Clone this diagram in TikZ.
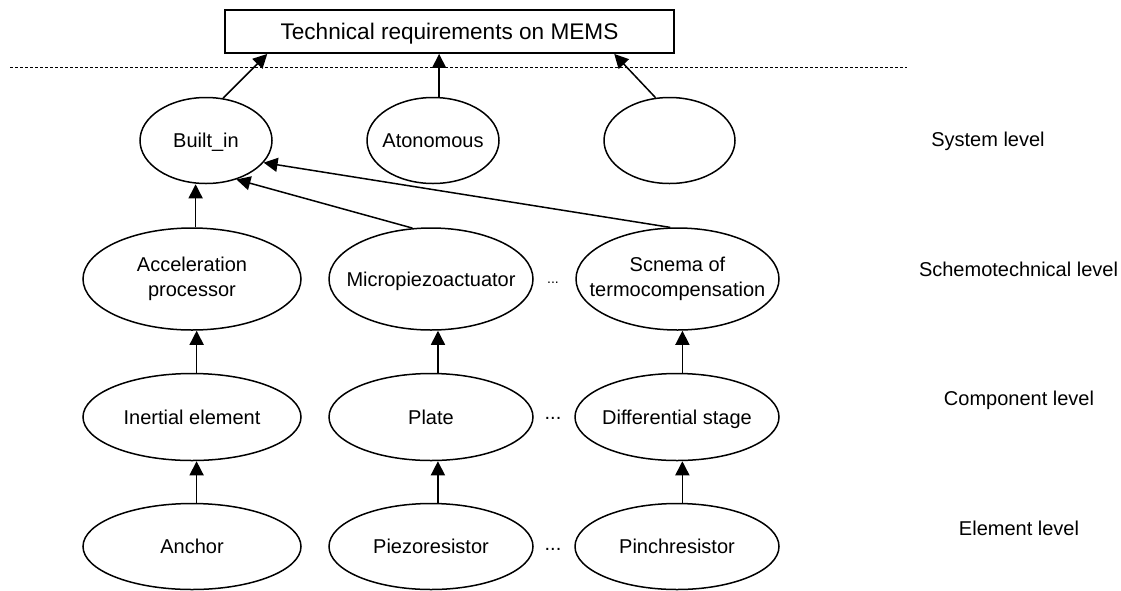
\documentclass[tikz,border=0pt]{standalone}
\usepackage{fontspec}
\setmainfont{Liberation Sans}
\usetikzlibrary{shapes.geometric,arrows.meta,calc}
\newcommand\zw[1]{\makebox[0pt]{#1}}
\newcommand\twol[2]{\makebox[0pt]{\begin{tabular}{@{}c@{}}#1\\#2\end{tabular}}}
\tikzset{
  lbl/.style={font=\fontsize{20}{25}\selectfont, inner sep=0pt},
  ell/.style={draw, ellipse, line width=1.5pt, inner sep=0pt, font=\fontsize{20}{25}\selectfont},
  one/.style={text height=14.3pt, text depth=0pt},
  arr/.style={line width=1.5pt, -{Triangle[length=14pt,width=14pt]}},
  dotline/.style={line width=1.3pt, dash pattern=on 3pt off 2pt},
  titlebox/.style={draw, rectangle, line width=1.5pt, inner sep=0pt, font=\fontsize{22.6}{27}\selectfont, text height=16.2pt, text depth=0pt}
}
\begin{document}
\begin{tikzpicture}[x=1pt,y=-1pt]
\useasboundingbox (0,0) rectangle (1121,590);
% title
\node[titlebox, minimum width=449pt, minimum height=43pt] (top) at (449.5,31.7) {Technical requirements on MEMS};
% dotted separator
\coordinate (dl) at (10,67.7);
\coordinate (dr) at (907,67.7);
\draw[dotline] (dl) -- (dr);
% system level
\node[ell, one, minimum width=132pt, minimum height=86pt] (bi) at (206,140.5) {\zw{Built\_in}};
\node[ell, one, minimum width=132pt, minimum height=86pt] (at) at (433,140.5) {\zw{Atonomous}};
\node[ell, one, minimum width=131pt, minimum height=86pt] (emp) at (669.5,140.5) {};
% schemotechnical level
\node[ell, minimum width=218pt, minimum height=102pt] (acc) at (192,279) {\twol{Acceleration}{processor}};
\node[ell, one, minimum width=204pt, minimum height=102pt] (mic) at (431,279) {\zw{Micropiezoactuator}};
\node[ell, minimum width=203pt, minimum height=102pt] (scn) at (677.5,279) {\twol{Scnema of}{termocompensation}};
% component level
\node[ell, one, minimum width=218pt, minimum height=87pt] (ine) at (192,417) {\zw{Inertial element}};
\node[ell, one, minimum width=204pt, minimum height=87pt] (pla) at (431,417) {\zw{Plate}};
\node[ell, one, minimum width=204pt, minimum height=87pt] (dif) at (677,417) {\zw{Differential stage}};
% element level
\node[ell, one, minimum width=218pt, minimum height=86pt] (anc) at (192,546.5) {\zw{Anchor}};
\node[ell, one, minimum width=204pt, minimum height=86pt] (pie) at (431,546.5) {\zw{Piezoresistor}};
\node[ell, one, minimum width=204pt, minimum height=86pt] (pin) at (677,546.5) {\zw{Pinchresistor}};
% ellipsis dots
\node[lbl, font=\fontsize{14}{17}\selectfont, anchor=base] (d1) at (553,283) {...};
\node[lbl, anchor=base] (d2) at (553,419) {...};
\node[lbl, anchor=base] (d3) at (553,550) {...};
% level labels
\node[lbl, anchor=base] (l1) at (988,146.7) {System level};
\node[lbl, anchor=base] (l2) at (1018.5,276.7) {Schemotechnical level};
\node[lbl, anchor=base] (l3) at (1019,405) {Component level};
\node[lbl, anchor=base] (l4) at (1019,535) {Element level};
% connectors to the title
\draw[arr] (bi.68) -- ($(top.south west)+(43,0)$);
\draw[arr] (at.82) -- (at.82 |- top.south);
\draw[arr] (emp.108) -- ($(top.south west)+(390,0)$);
% schemotechnical -> Built_in
\draw[arr] (acc.86) -- (acc.86 |- bi.south);
\draw[arr] (mic.110) -- (bi.-52);
\draw[arr] (scn.98) -- (bi.-21.6);
% component -> schemotechnical
\draw[arr] (ine.84) -- (ine.84 |- acc.south);
\draw[arr] (pla.81) -- (pla.81 |- mic.south);
\draw[arr] (dif.83) -- (dif.83 |- scn.south);
% element -> component
\draw[arr] (anc.84) -- (anc.84 |- ine.south);
\draw[arr] (pie.81) -- (pie.81 |- pla.south);
\draw[arr] (pin.83) -- (pin.83 |- dif.south);
\end{tikzpicture}
\end{document}
